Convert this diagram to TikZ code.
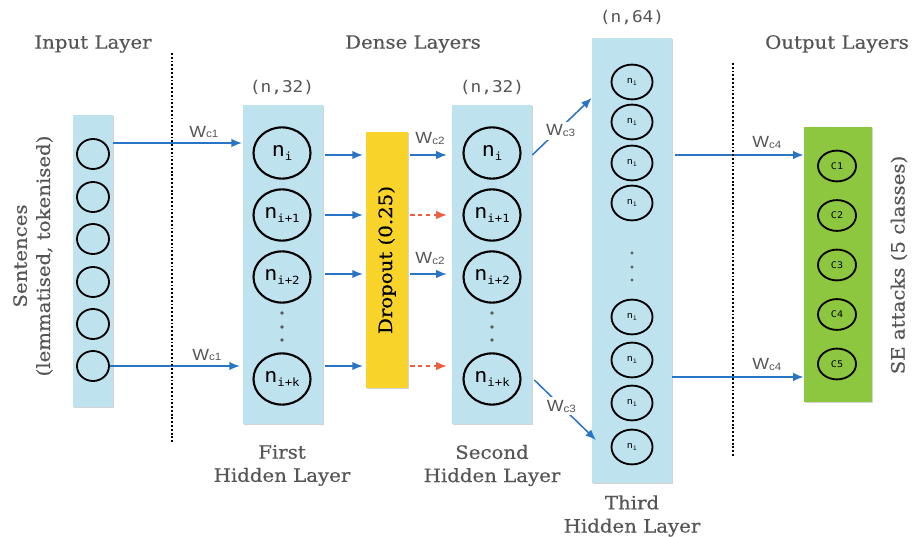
\documentclass[tikz,border=0pt]{standalone}
\usepackage{fontspec}
\setmainfont{DejaVu Serif}[FakeStretch=1.08,FakeBold=0.5]
\newfontfamily\wfont{Liberation Sans}[FakeStretch=1.1]
\newfontfamily\cfont{DejaVu Sans Mono}[FakeStretch=1.1]
\usepackage{xcolor}
\usepackage{tikz}
\usetikzlibrary{arrows.meta,positioning,calc,shadows,shapes.geometric}
\definecolor{LayerBlue}{HTML}{BFE3EE}
\definecolor{DropYellow}{HTML}{F8D42B}
\definecolor{OutGreen}{HTML}{8DC63F}
\definecolor{FlowBlue}{HTML}{2A74C5}
\definecolor{DropRed}{HTML}{EF5E3F}
\definecolor{TextGray}{HTML}{555555}
\newcommand{\nn}[1]{{\fontsize{14}{14}\selectfont n\raisebox{-.35ex}{\fontsize{8}{8}\selectfont #1}}}
\newcommand{\nsm}{{\fontsize{6.5}{6.5}\selectfont n\raisebox{-.25ex}{\fontsize{4.5}{4.5}\selectfont i}}}
\newcommand{\wc}[1]{{\wfont\fontsize{11.5}{11.5}\selectfont W\raisebox{-.1ex}{\fontsize{7.5}{8}\selectfont c#1}}}

\begin{document}
\begin{tikzpicture}[x=0.025cm,y=-0.025cm,
  layer/.style={fill=LayerBlue,inner sep=0pt,drop shadow={shadow xshift=0.7pt,shadow yshift=-1pt,opacity=0.35}},
  unit/.style={ellipse,draw,line width=1.5pt,inner sep=0pt,font=\cfont},
  head/.style={text=TextGray,font=\fontsize{13}{16.5}\selectfont,align=center},
  dimlabel/.style={text=TextGray,font=\cfont\fontsize{11.5}{12}\selectfont},
  flow/.style={draw=FlowBlue,line width=1.1pt,-{Latex[length=7.5pt,width=6pt]}},
  dropped/.style={draw=DropRed,line width=1.1pt,dash pattern=on 3pt off 2.5pt,-{Latex[length=7.5pt,width=6pt]}},
  wts/.style={text=TextGray,inner sep=1pt},
  divider/.style={line width=1.6pt,dash pattern=on 1.3pt off 1.4pt}]
  \useasboundingbox (0,0) rectangle (912,537);
  \node[layer,minimum width=1cm,minimum height=7.3cm] (inbox) at (93,261) {};
  \node[layer,minimum width=2cm,minimum height=7.975cm] (hidA) at (283,264.5) {};
  \node[layer,minimum width=2cm,minimum height=7.975cm] (hidB) at (492,264.5) {};
  \node[layer,minimum width=2cm,minimum height=11.125cm] (hidC) at (632,260.5) {};
  \node[fill=DropYellow,minimum width=1.05cm,minimum height=6.4cm,inner sep=0pt,
    drop shadow={shadow xshift=0.7pt,shadow yshift=-1pt,opacity=0.35}] (drop) at (387,260) {};
  \node[rotate=90,font=\fontsize{13}{13}\selectfont] (droptext) at (drop.center) {Dropout (0.25)};
  \node[fill=OutGreen,minimum width=1.7cm,minimum height=6.875cm,inner sep=0pt,
    drop shadow={shadow xshift=0.7pt,shadow yshift=-1pt,opacity=0.35}] (outbox) at (838,264.5) {};
  \foreach \y [count=\k] in {154,197,239,282,324,366}
    \node[unit,line width=1.3pt,minimum width=0.8cm,minimum height=0.75cm] (in\k) at (93,\y) {};
  \foreach \y/\s [count=\k] in {153/i,215/i+1,277/i+2,379/i+k} {
    \node[unit,minimum width=1.425cm,minimum height=1.28cm] (a\k) at (282,\y) {\nn{\s}};
    \node[unit,minimum width=1.425cm,minimum height=1.28cm] (b\k) at (492,\y) {\nn{\s}};
  }
  \foreach \y [count=\k] in {82,122,163,203,317,360,403,447}
    \node[unit,line width=1.3pt,minimum width=1.025cm,minimum height=0.87cm] (c\k) at (632,\y) {\nsm};
  \foreach \k in {1,...,5}
    \node[unit,line width=1.3pt,minimum width=0.95cm,minimum height=0.77cm,font=\cfont\fontsize{6.5}{7}\selectfont] (o\k) at (837,{166+49.5*(\k-1)}) {C\k};
  \foreach \y in {313,327,340} {
    \fill[black!65] (282,\y) circle (1.3pt);
    \fill[black!65] (492,\y) circle (1.3pt);
  }
  \foreach \y in {253,267,280} \fill[black!65] (632,\y) circle (1.1pt);

  \node[head] (inhead) at (93,44) {Input Layer};
  \node[head] (densehead) at (413,44) {Dense Layers};
  \node[head] (outhead) at (837,44) {Output Layers};
  \node[dimlabel] (dimA) at (282,87) {(n,32)};
  \node[dimlabel] (dimB) at (492,87) {(n,32)};
  \node[dimlabel] (dimC) at (632,18) {(n,64)};
  \node[head] (capA) at (282,465.5) {First\\Hidden Layer};
  \node[head] (capB) at (492,465.5) {Second\\Hidden Layer};
  \node[head] (capC) at (632,516) {Third\\Hidden Layer};
  \node[head,rotate=90] (sentences) at (33,256) {Sentences\\(lemmatised, tokenised)};
  \node[head,rotate=90] (attacks) at (899,265) {SE attacks (5 classes)};

  \draw[flow,shorten >=0.5pt] (inbox.east |- 0,143) -- (hidA.west |- 0,143) node[wts,pos=.7,above=2pt] {\wc{1}};
  \draw[flow,shorten >=2pt] (in6.east) -- (hidA.west |- in6.east) node[wts,pos=.73,above=2pt] {\wc{1}};
  \foreach \y in {155,215,274,366}
    \draw[flow,shorten <=1.5pt,shorten >=2pt] (hidA.east |- 0,\y) -- (drop.west |- 0,\y);
  \draw[flow,shorten <=1.5pt,shorten >=3.5pt] (drop.east |- 0,155) -- (hidB.west |- 0,155) node[wts,midway,above=6pt] {\wc{2}};
  \draw[flow,shorten <=1.5pt,shorten >=3.5pt] (drop.east |- 0,274) -- (hidB.west |- 0,274) node[wts,midway,above=5pt] {\wc{2}};
  \draw[dropped,shorten <=1.5pt,shorten >=3.5pt] (drop.east |- 0,215) -- (hidB.west |- 0,215);
  \draw[dropped,shorten <=1.5pt,shorten >=3.5pt] (drop.east |- 0,366) -- (hidB.west |- 0,366);
  \draw[flow] (hidB.east |- 0,155) -- (hidC.west |- 0,98) node[wts,midway,fill=white,inner sep=2pt,xshift=-1pt,yshift=-3pt] {\wc{3}};
  \draw[flow,shorten <=2pt] (hidB.east |- 0,378) -- ([xshift=3pt]hidC.west |- 0,440) node[wts,midway,fill=white,inner sep=2pt,xshift=-2pt,yshift=2pt] {\wc{3}};
  \draw[flow,shorten <=2pt] (hidC.east |- 0,155) -- (outbox.west |- 0,155) node[wts,pos=.72,above=3pt] {\wc{4}};
  \draw[flow] (hidC.east |- 0,377) -- (outbox.west |- 0,377) node[wts,pos=.72,above=3pt] {\wc{4}};

  \draw[divider] (172,53) -- (172,443);
  \draw[divider] (733,63) -- (733,457);
\end{tikzpicture}
\end{document}
